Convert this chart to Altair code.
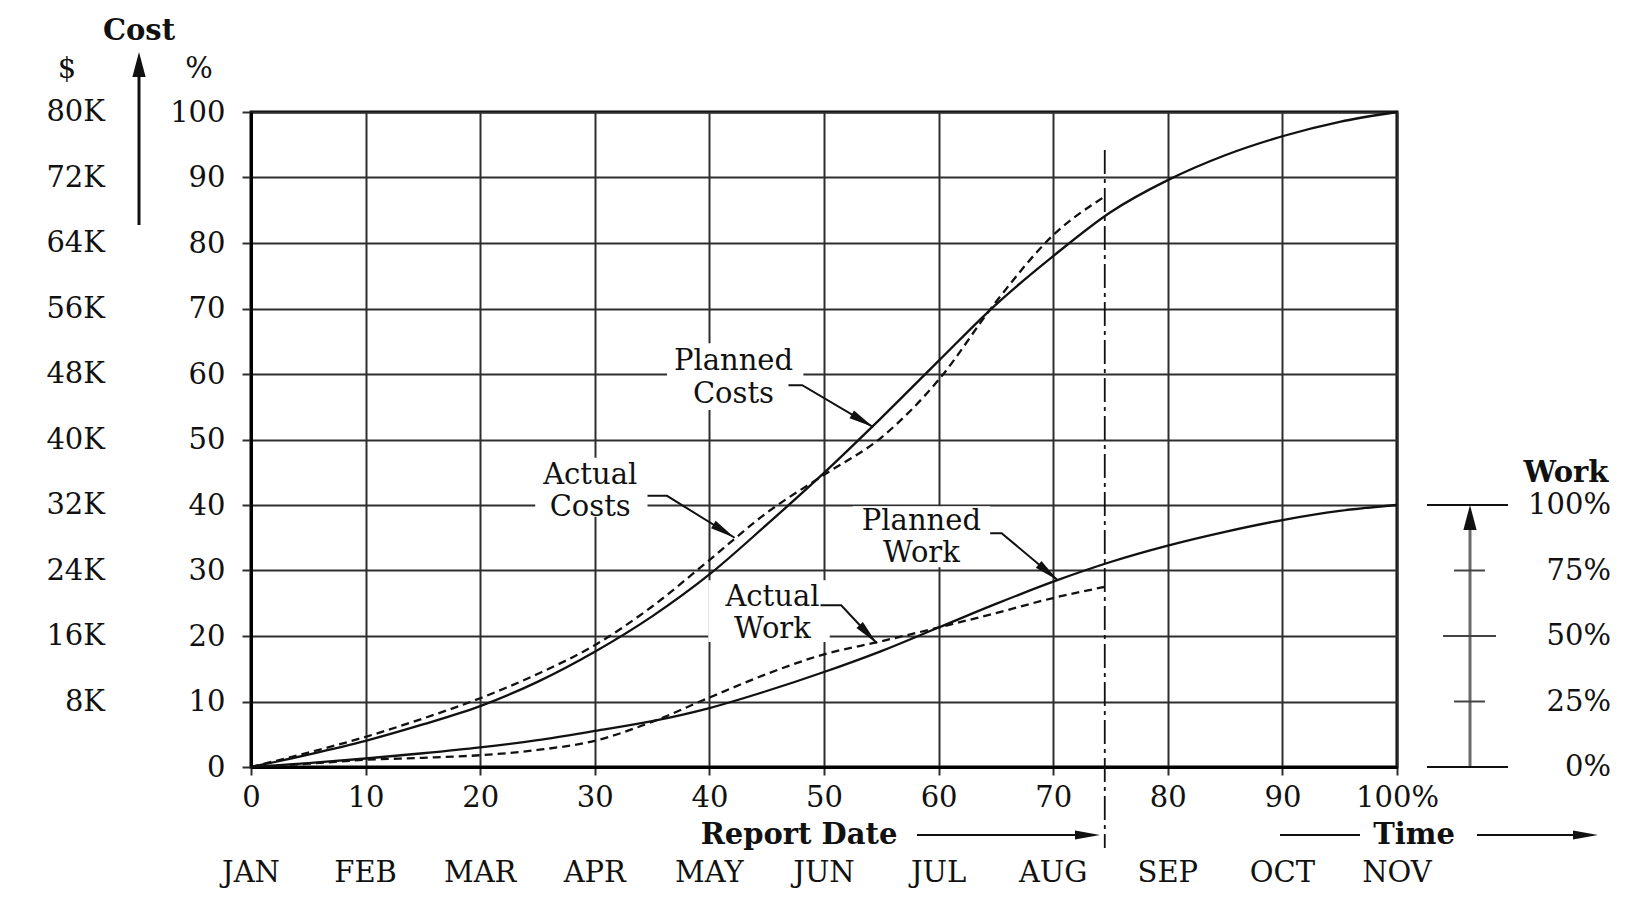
import math
import altair as alt
import pandas as pd

# ---------------- layout / style constants ----------------
W, H = 1146, 655
FONT = "DejaVu Serif"
FS = 29
INK = "#111111"
GRID = "#2e2e2e"
HEAD_S = "M0,0L-0.6,3.4L0.6,3.4Z"     # slim arrow head, tip at origin, pointing up
HEAD_B = "M0,0L-0.9,3.4L0.9,3.4Z"     # broad arrow head
HEAD_SIZE = 216

# ---------------- data ----------------
t_plan = [0, 5, 10, 15, 20, 25, 30, 35, 40, 45, 50, 55, 60, 65, 70, 75, 80, 85, 90, 95, 100]
planned_cost = [0, 1.9, 4.0, 6.5, 9.3, 13.0, 17.6, 23.0, 29.4, 37.0, 44.9, 53.3, 62.0, 70.6,
                78.0, 84.7, 89.6, 93.4, 96.3, 98.5, 100]
planned_work = [0, 0.6, 1.3, 2.1, 3.0, 4.1, 5.5, 7.0, 9.0, 11.6, 14.5, 17.7, 21.3, 24.9,
                28.3, 31.3, 33.8, 35.9, 37.7, 39.1, 40]

t_act = [0, 5, 10, 15, 20, 25, 30, 35, 40, 45, 50, 55, 60, 65, 70, 74.5]
actual_cost = [0, 2.2, 4.6, 7.4, 10.5, 14.2, 18.6, 24.5, 31.6, 38.8, 44.6, 50.3, 59.1, 71.0, 81.2, 87.1]
actual_work = [0, 0.5, 1.1, 1.4, 1.8, 2.6, 4.0, 6.9, 10.6, 14.2, 17.2, 19.2, 21.3, 23.5, 25.8, 27.5]

report_date = 74.5

x_ticks = list(range(0, 101, 10))
y_ticks = list(range(0, 101, 10))
months = ["JAN", "FEB", "MAR", "APR", "MAY", "JUN", "JUL", "AUG", "SEP", "OCT", "NOV"]
dollar_pct = [10, 20, 30, 40, 50, 60, 70, 80, 90, 100]
dollar_labels = ["8K", "16K", "24K", "32K", "40K", "48K", "56K", "64K", "72K", "80K"]
work_pct = [0, 25, 50, 75, 100]
work_labels = ["0%", "25%", "50%", "75%", "100%"]
work_full = 40  # 100 % work sits on the 40 line of the cost scale

ann_line1 = ["Planned", "Actual", "Planned", "Actual"]
ann_line2 = ["Costs", "Costs", "Work", "Work"]
ann_x = [42.1, 29.6, 58.5, 45.5]
ann_y1 = [62.0, 44.6, 37.5, 26.0]
ann_y2 = [57.0, 39.7, 32.6, 21.1]
box_x0 = [36.3, 24.8, 52.5, 39.9]
box_x1 = [48.2, 34.6, 64.5, 50.5]
box_y0 = [54.5, 38.2, 30.5, 19.1]
box_y1 = [64.7, 47.2, 39.8, 28.5]
lead_x = [[46.9, 48.1, 54.3], [34.6, 36.3, 42.2], [64.5, 65.5, 70.4], [49.7, 51.5, 54.6]]
lead_y = [[58.3, 58.3, 51.9], [41.4, 41.4, 35.0], [35.7, 35.7, 28.5], [24.7, 24.7, 18.9]]

# ---------------- tables ----------------
df_plan = pd.DataFrame({
    "t": t_plan + t_plan,
    "v": planned_cost + planned_work,
    "s": ["Planned Costs"] * len(t_plan) + ["Planned Work"] * len(t_plan),
})
df_act = pd.DataFrame({
    "t": t_act + t_act,
    "v": actual_cost + actual_work,
    "s": ["Actual Costs"] * len(t_act) + ["Actual Work"] * len(t_act),
})
df_box = pd.DataFrame({"bx0": box_x0, "bx1": box_x1, "by0": box_y0, "by1": box_y1})
df_ann = pd.DataFrame({
    "ax": ann_x + ann_x,
    "ay": ann_y1 + ann_y2,
    "txt": ann_line1 + ann_line2,
})
rows = []
heads = []
for i, (lx, ly) in enumerate(zip(lead_x, lead_y)):
    for k in range(3):
        rows.append({"g": i, "o": k, "lx": lx[k], "ly": ly[k]})
    sx = (lx[2] - lx[1]) * W / 100.0
    sy = -(ly[2] - ly[1]) * H / 100.0
    ang = math.degrees(math.atan2(sx, -sy)) % 360
    heads.append({"hx": lx[2], "hy": ly[2], "ang": ang})
df_lead = pd.DataFrame(rows)
df_head = pd.DataFrame(heads)
df_months = pd.DataFrame({"mt": x_ticks, "m": months})
df_dollar = pd.DataFrame({"dy": dollar_pct, "lab": dollar_labels})
df_work = pd.DataFrame({"wy": [p * work_full / 100 for p in work_pct], "lab": work_labels})
one = pd.DataFrame({"a": [0]})

XS = alt.Scale(domain=[0, 100], nice=False, zero=False)
YS = alt.Scale(domain=[0, 100], nice=False, zero=False)

x_axis = alt.Axis(values=x_ticks, title=None, grid=True, gridColor=GRID, gridWidth=2, gridOpacity=1,
                  domainColor="black", domainWidth=3, tickColor=GRID, tickWidth=2, tickSize=8,
                  labelFont=FONT, labelFontSize=FS, labelColor=INK, labelPadding=8,
                  labelFlush=False, labelOverlap=False,
                  labelExpr="datum.value == 100 ? '100%' : datum.label")
y_axis = alt.Axis(values=y_ticks, title=None, grid=True, gridColor=GRID, gridWidth=2, gridOpacity=1,
                  domainColor="black", domainWidth=3, tickColor=GRID, tickWidth=2, tickSize=9,
                  labelFont=FONT, labelFontSize=FS, labelColor=INK, labelPadding=17,
                  labelFlush=False, labelOverlap=False)


def X(f):
    return alt.X(f, scale=XS, axis=x_axis)


def Y(f):
    return alt.Y(f, scale=YS, axis=y_axis)


def ptext(txt, px, py, bold=False, align="center"):
    return alt.Chart(one).mark_text(
        text=txt, font=FONT, fontSize=FS, fontWeight="bold" if bold else "normal",
        color=INK, align=align, baseline="middle"
    ).encode(x=alt.value(px), y=alt.value(py))


def prule(x1, y1, x2, y2, color=INK, width=2):
    return alt.Chart(one).mark_rule(color=color, strokeWidth=width).encode(
        x=alt.value(x1), y=alt.value(y1), x2=alt.value(x2), y2=alt.value(y2))


def phead(px, py, ang, shape=HEAD_B, size=HEAD_SIZE):
    return alt.Chart(one).mark_point(shape=shape, size=size, filled=True, color=INK,
                                     opacity=1, strokeWidth=0, angle=ang).encode(
        x=alt.value(px), y=alt.value(py))


# ---------------- layers ----------------
planned = alt.Chart(df_plan).mark_line(color=INK, strokeWidth=2.3, interpolate="monotone").encode(
    x=X("t:Q"), y=Y("v:Q"), detail="s:N")
actual = alt.Chart(df_act).mark_line(color=INK, strokeWidth=2.3, strokeDash=[8, 5],
                                     interpolate="monotone").encode(
    x=X("t:Q"), y=Y("v:Q"), detail="s:N")

boxes = alt.Chart(df_box).mark_rect(fill="white", strokeWidth=0).encode(
    x=X("bx0:Q"), x2="bx1:Q", y=Y("by0:Q"), y2="by1:Q")

ann_text = alt.Chart(df_ann).mark_text(font=FONT, fontSize=FS, color=INK, align="center",
                                        baseline="middle").encode(
    x=X("ax:Q"), y=Y("ay:Q"), text="txt:N")

leaders = alt.Chart(df_lead).mark_line(color=INK, strokeWidth=2).encode(
    x=X("lx:Q"), y=Y("ly:Q"), detail="g:N", order="o:Q")

lead_heads = alt.Chart(df_head).mark_point(shape=HEAD_S, size=HEAD_SIZE, filled=True, color=INK,
                                           opacity=1, strokeWidth=0).encode(
    x=X("hx:Q"), y=Y("hy:Q"), angle=alt.Angle("ang:Q", scale=None))

report_line = alt.Chart(pd.DataFrame({"rd": [report_date]})).mark_rule(
    color=INK, strokeWidth=1.8, strokeDash=[24, 5, 4, 5]).encode(
    x=X("rd:Q"), y=alt.value(38), y2=alt.value(736))

month_text = alt.Chart(df_months).mark_text(font=FONT, fontSize=FS, color=INK, align="center",
                                            baseline="middle").encode(
    x=X("mt:Q"), y=alt.value(H + 106), text="m:N")

dollar_text = alt.Chart(df_dollar).mark_text(font=FONT, fontSize=FS, color=INK, align="right",
                                             baseline="middle").encode(
    x=alt.value(-146), y=Y("dy:Q"), text="lab:N")

# work scale on the right
work_axis_line = alt.Chart(pd.DataFrame({"a": [0], "b": [work_full - 3]})).mark_rule(
    color="#6a6a6a", strokeWidth=3).encode(x=alt.value(W + 73), y=Y("a:Q"), y2="b:Q")
work_ends = alt.Chart(df_work[df_work["lab"].isin(["0%", "100%"])]).mark_rule(
    color=INK, strokeWidth=2).encode(x=alt.value(W + 30), x2=alt.value(W + 111), y=Y("wy:Q"))
work_q = alt.Chart(df_work[df_work["lab"].isin(["25%", "75%"])]).mark_rule(
    color="#444444", strokeWidth=2).encode(x=alt.value(W + 57), x2=alt.value(W + 88), y=Y("wy:Q"))
work_h = alt.Chart(df_work[df_work["lab"] == "50%"]).mark_rule(
    color="#444444", strokeWidth=2).encode(x=alt.value(W + 46), x2=alt.value(W + 99), y=Y("wy:Q"))
work_text = alt.Chart(df_work).mark_text(font=FONT, fontSize=FS, color=INK, align="right",
                                         baseline="middle").encode(
    x=alt.value(W + 214), y=Y("wy:Q"), text="lab:N")
work_head = alt.Chart(pd.DataFrame({"wy": [work_full]})).mark_point(
    shape=HEAD_B, size=HEAD_SIZE, filled=True, color=INK, opacity=1, strokeWidth=0,
    angle=0).encode(x=alt.value(W + 73), y=Y("wy:Q"))

extras = [
    ptext("Cost", -112, -81, bold=True),
    ptext("$", -184, -43),
    ptext("%", -52, -43),
    prule(-112, 113, -112, -40, width=3),
    phead(-112, -60, 0),
    ptext("Report Date", 548, 723, bold=True),
    prule(666, 723, 830, 723),
    phead(849, 723, 90, HEAD_S),
    ptext("Time", 1163, 723, bold=True),
    prule(1029, 723, 1109, 723),
    prule(1226, 723, 1328, 723),
    phead(1347, 723, 90, HEAD_S),
    ptext("Work", W + 169, 361, bold=True),
]

chart = alt.layer(
    planned, actual, boxes, ann_text, leaders, lead_heads, report_line,
    month_text, dollar_text,
    work_axis_line, work_ends, work_q, work_h, work_text, work_head,
    *extras
).properties(
    width=W, height=H,
    padding={"left": 243, "top": 104, "right": 232, "bottom": 125},
    autosize=alt.AutoSizeParams(type="none"),
    background="white",
).configure_view(stroke="black", strokeWidth=3)

chart.save("out.html", embed_options={"renderer": "svg", "actions": False})
